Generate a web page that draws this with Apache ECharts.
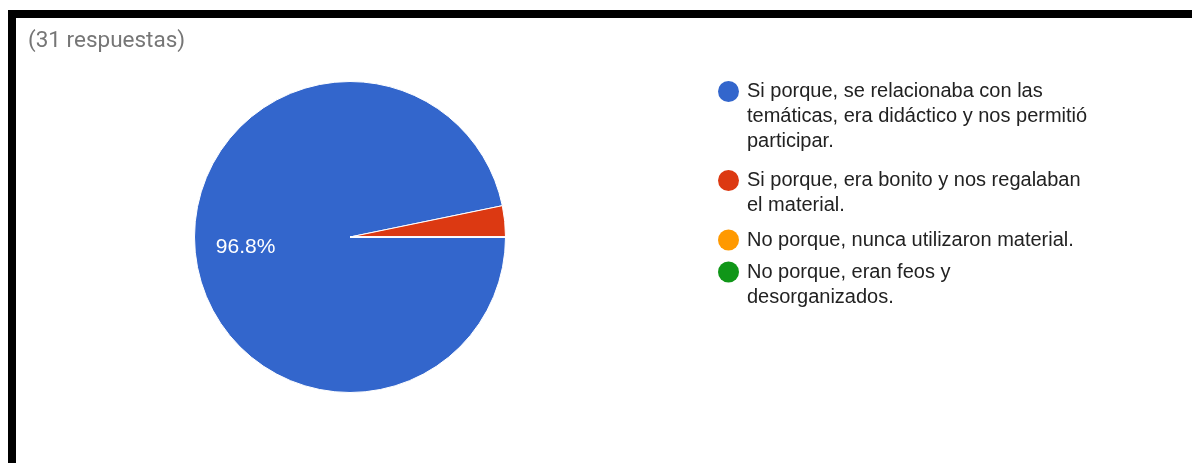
<!DOCTYPE html>
<html>
<head>
<meta charset="utf-8">
<script src="https://cdn.jsdelivr.net/npm/echarts@6/dist/echarts.min.js"></script>
<style>
  html, body { margin: 0; padding: 0; background: #ffffff; }
  #frame { position: absolute; left: 8px; top: 10px; width: 1184px; height: 453px;
           border-top: 8px solid #000; border-left: 8px solid #000; box-sizing: border-box; }
  #chart { position: absolute; left: 0; top: 0; width: 1192px; height: 463px; }
</style>
</head>
<body>
<div id="frame"></div>
<div id="chart"></div>
<script>
// ---- data ----
const titleText = '(31 respuestas)';
const categories = [
  'Si porque, se relacionaba con las temáticas, era didáctico y nos permitió participar.',
  'Si porque, era bonito y nos regalaban el material.',
  'No porque, nunca utilizaron material.',
  'No porque, eran feos y desorganizados.'
];
const legendLines = [
  ['Si porque, se relacionaba con las', 'temáticas, era didáctico y nos permitió', 'participar.'],
  ['Si porque, era bonito y nos regalaban', 'el material.'],
  ['No porque, nunca utilizaron material.'],
  ['No porque, eran feos y', 'desorganizados.']
];
const responses = [30, 1, 0, 0];
const colors = ['#3366cc', '#dc3912', '#ff9900', '#109618'];

// ---- layout helpers ----
const LINE_H = 25;
const extra = [9, 30, 29.5, 2.5];  // spacing tweaks between legend entries

const chart = echarts.init(document.getElementById('chart'), null, { renderer: 'canvas' });
const PIE_CX = 350, PIE_CY = 237, PIE_R = 155.5;
const LABEL_R = PIE_R * 0.675;

const option = {
  backgroundColor: 'transparent',
  animation: false,
  title: {
    text: titleText,
    left: 28,
    top: 30,
    padding: 0,
    textStyle: { fontFamily: 'Roboto', fontSize: 22.5, fontWeight: 'normal', color: '#767676' }
  },
  legend: {
    orient: 'vertical',
    left: 718,
    top: 20,
    padding: 0,
    itemGap: -50,
    itemWidth: 21,
    itemHeight: 21,
    icon: 'circle',
    selectedMode: false,
    itemStyle: { borderWidth: 0 },
    textStyle: { fontFamily: 'Liberation Sans, Arial', fontSize: 20, color: '#222222', lineHeight: LINE_H },
    data: categories.map((name, i) => ({
      name: name,
      textStyle: {
        padding: [extra[i], 0, extra[i], 3],
        backgroundColor: 'rgba(0,0,0,0)'
      }
    })),
    formatter: function (name) {
      const lines = legendLines[categories.indexOf(name)];
      // leading blank lines keep the marker level with the first text line
      const blanks = new Array(lines.length - 1).fill('');
      return blanks.concat(lines).join('\n');
    }
  },
  series: [{
    type: 'pie',
    center: [PIE_CX, PIE_CY],
    radius: PIE_R,
    startAngle: 0,
    clockwise: true,
    avoidLabelOverlap: false,
    silent: true,
    itemStyle: { borderColor: '#ffffff', borderWidth: 1 },
    label: {
      show: true,
      position: 'inside',
      color: '#ffffff',
      fontFamily: 'Liberation Sans, Arial',
      fontSize: 21,
      formatter: function (p) { return p.percent >= 5 ? p.percent.toFixed(1) + '%' : ''; }
    },
    labelLine: { show: false },
    labelLayout: function (params) {
      const r = params.labelRect;
      const lx = r.x + r.width / 2, ly = r.y + r.height / 2;
      const vx = lx - PIE_CX, vy = ly - PIE_CY;
      const d = Math.sqrt(vx * vx + vy * vy) || 1;
      return {
        x: PIE_CX + vx / d * LABEL_R,
        y: PIE_CY + vy / d * LABEL_R,
        align: 'center',
        verticalAlign: 'middle'
      };
    },
    data: categories.map((name, i) => ({ name: name, value: responses[i], itemStyle: { color: colors[i] } }))
  }]
};
chart.setOption(option);
</script>
</body>
</html>
